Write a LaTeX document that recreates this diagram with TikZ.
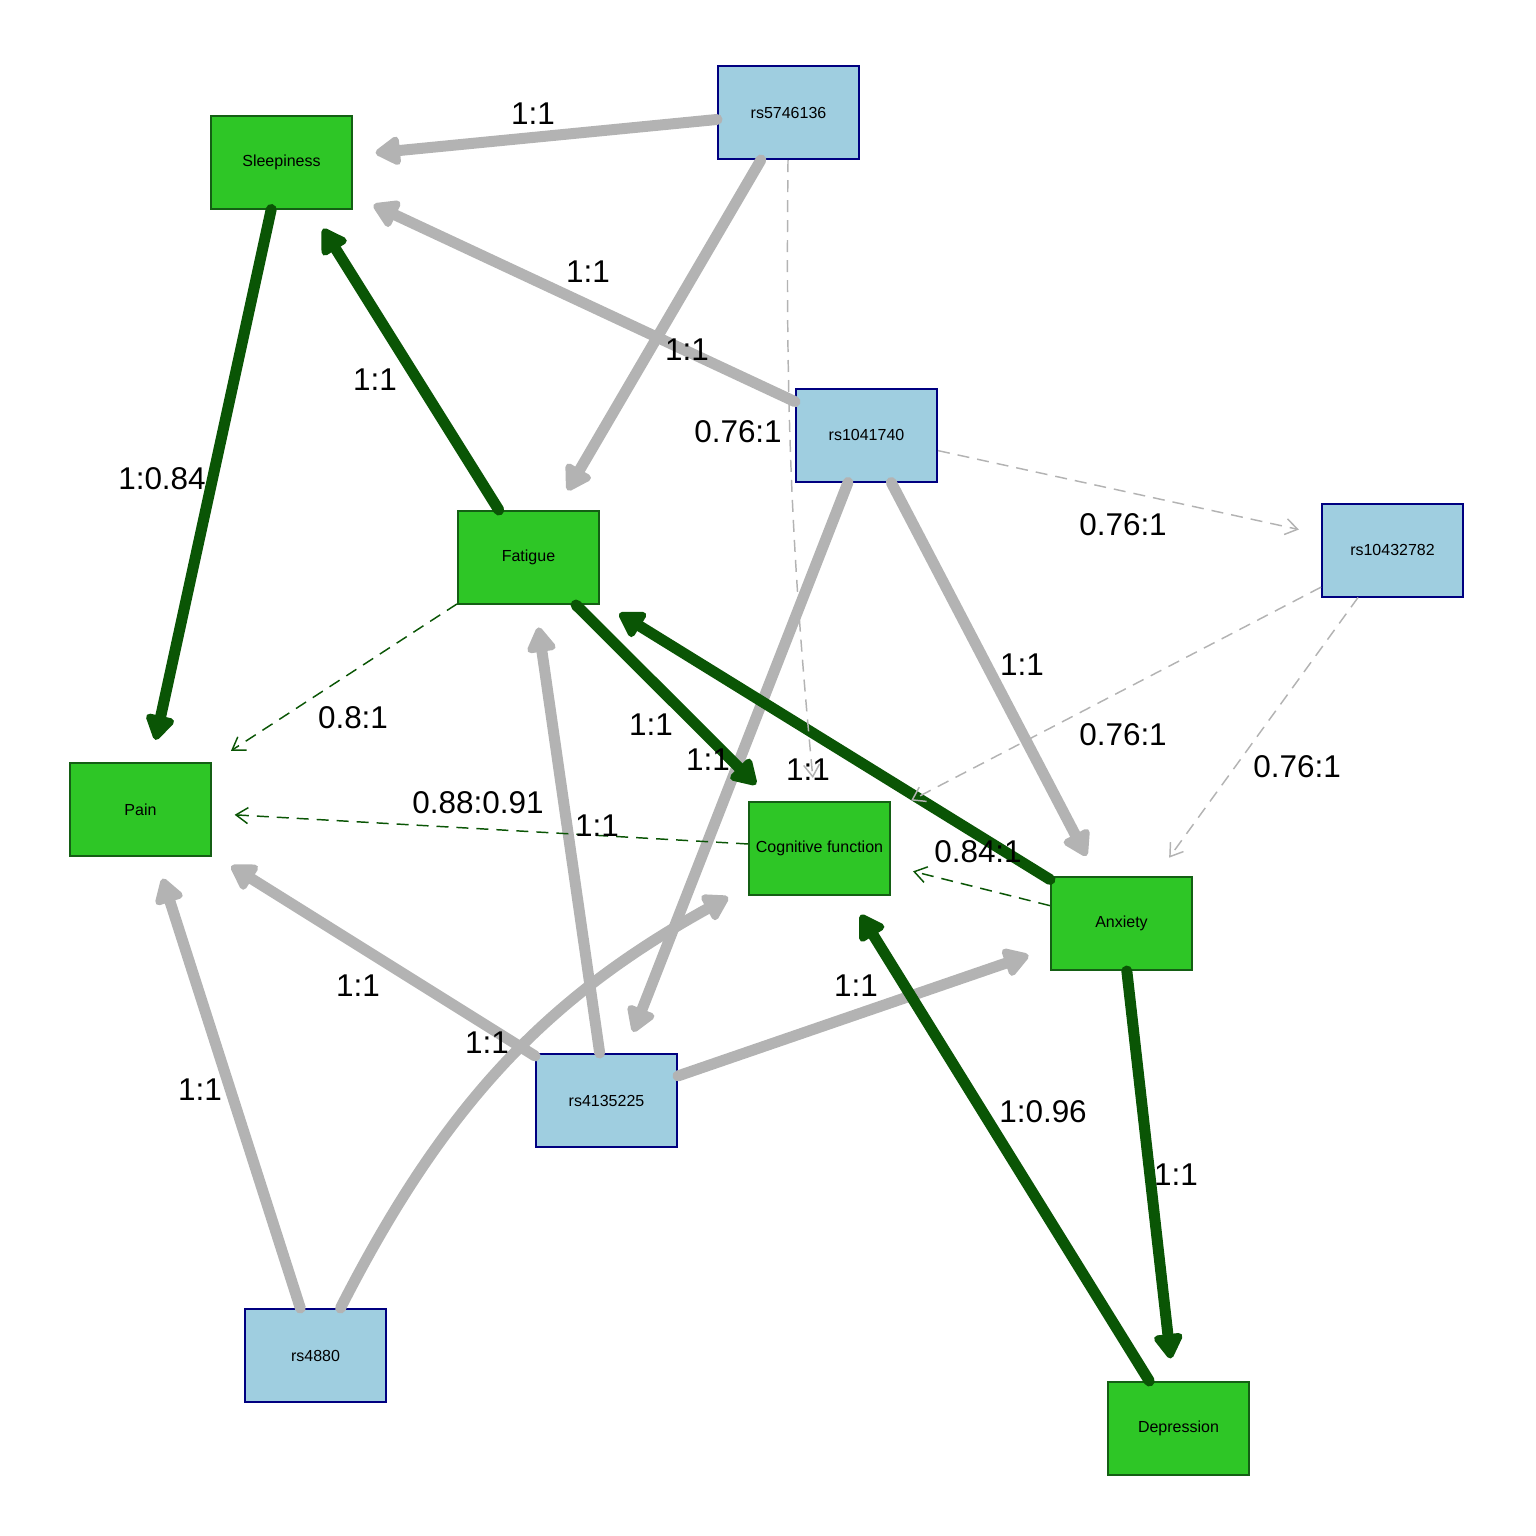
\documentclass[tikz,border=0pt]{standalone}
\usepackage{fontspec}
\setmainfont{Liberation Sans}
\usetikzlibrary{arrows.meta}

\definecolor{traitfill}{RGB}{46,198,38}
\definecolor{traitline}{RGB}{20,95,20}
\definecolor{snpfill}{RGB}{159,206,224}
\definecolor{snpline}{RGB}{0,0,128}
\definecolor{edgegreen}{RGB}{10,85,5}
\definecolor{edgegray}{RGB}{179,179,179}

\tikzset{every picture/.style={line width=0.75pt}}
\tikzset{
  trait/.style={draw=traitline, fill=traitfill, line width=1.5pt, inner sep=0pt,
    minimum width=105.75pt, minimum height=69.75pt, font=\fontsize{12}{14}\selectfont},
  snp/.style={trait, draw=snpline, fill=snpfill},
  thickedge/.style={line width=8.25pt, line cap=round, shorten >=17pt,
    -{Triangle[round,length=21pt,width=24pt]}},
  thinedge/.style={line width=1.1pt, dash pattern=on 9pt off 6pt, shorten >=17pt,
    -{Straight Barb[length=9pt,width=12pt]}},
  elab/.style={font=\fontsize{23.6}{28}\selectfont, inner sep=0pt}
}

\begin{document}
\begin{tikzpicture}[x=0.75pt,y=0.75pt,yscale=-1,xscale=1]
\useasboundingbox (0,0) rectangle (1536,1536);

% Trait Nodes
\node[trait] (sleep) at (281.5,162) {Sleepiness};
\node[trait] (fatigue) at (528.5,557.5) {Fatigue};
\node[trait] (pain) at (140.5,809.5) {Pain};
\node[trait] (cogfun) at (819.5,848) {Cognitive function};
\node[trait] (anxiety) at (1121.5,923.5) {Anxiety};
\node[trait] (depress) at (1178.5,1428.5) {Depression};
% SNP Nodes
\node[snp] (r5746136) at (788.5,112.5) {rs5746136};
\node[snp] (r1041740) at (866.5,435) {rs1041740};
\node[snp] (r10432782) at (1392.5,550) {rs10432782};
\node[snp] (r4135225) at (606.5,1100.5) {rs4135225};
\node[snp] (r4880) at (315.5,1355.5) {rs4880};

% Connection
\draw[thickedge, edgegray] (r5746136) -- (sleep);
\draw[thickedge, edgegray] (r5746136) -- (fatigue);
\draw[thickedge, edgegray] (r1041740) -- (sleep);
\draw[thickedge, edgegray] (r1041740) -- (r4135225);
\draw[thickedge, edgegray] (r1041740) -- (anxiety);
\draw[thickedge, edgegray] (r4135225) -- (pain);
\draw[thickedge, edgegray] (r4135225) -- (fatigue);
\draw[thickedge, edgegray] (r4135225) -- (anxiety);
\draw[thickedge, edgegray] (r4880) -- (pain);
\draw[thickedge, edgegray] (r4880) to[bend right=17] (cogfun);
% Connection
\draw[thickedge, edgegreen] (sleep) -- (pain);
\draw[thickedge, edgegreen] (fatigue) -- (sleep);
\draw[thickedge, edgegreen] (fatigue) -- (cogfun);
\draw[thickedge, edgegreen] (anxiety) -- (fatigue);
\draw[thickedge, edgegreen] (anxiety) -- (depress);
\draw[thickedge, edgegreen] (depress) -- (cogfun);
% Connection
\draw[thinedge, edgegreen] (fatigue) -- (pain);
\draw[thinedge, edgegreen] (cogfun) -- (pain);
\draw[thinedge, edgegreen] (anxiety) -- (cogfun);
\draw[thinedge, edgegray] (r5746136) to[bend left=3] (cogfun);
\draw[thinedge, edgegray] (r1041740) -- (r10432782);
\draw[thinedge, edgegray] (r10432782) -- (cogfun);
\draw[thinedge, edgegray] (r10432782) -- (anxiety);

% Text Node
\node[elab] (l1) at (533,114) {1:1};
\node[elab] (l2) at (588,272) {1:1};
\node[elab] (l3) at (687,350) {1:1};
\node[elab] (l4) at (375,380) {1:1};
\node[elab] (l5) at (738,432) {0.76:1};
\node[elab] (l6) at (162,479) {1:0.84};
\node[elab] (l7) at (1123,525) {0.76:1};
\node[elab] (l8) at (1022,665) {1:1};
\node[elab] (l9) at (353,718) {0.8:1};
\node[elab] (l10) at (651,725) {1:1};
\node[elab] (l11) at (1123,735) {0.76:1};
\node[elab] (l12) at (708,760) {1:1};
\node[elab] (l13) at (808,770) {1:1};
\node[elab] (l14) at (1297,767) {0.76:1};
\node[elab] (l15) at (478,803) {0.88:0.91};
\node[elab] (l16) at (597,826) {1:1};
\node[elab] (l17) at (978,852) {0.84:1};
\node[elab] (l18) at (358,986) {1:1};
\node[elab] (l19) at (856,986) {1:1};
\node[elab] (l20) at (487,1043) {1:1};
\node[elab] (l21) at (200,1090) {1:1};
\node[elab] (l22) at (1043,1112) {1:0.96};
\node[elab] (l23) at (1176,1175) {1:1};

\end{tikzpicture}
\end{document}
